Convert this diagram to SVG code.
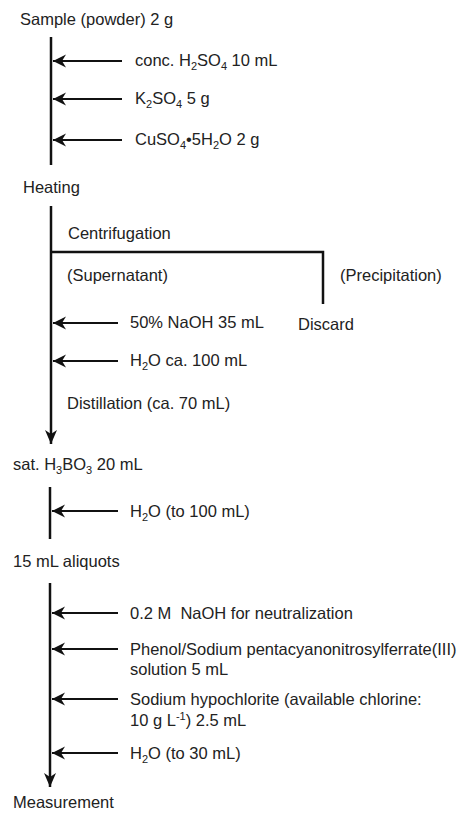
<svg xmlns="http://www.w3.org/2000/svg" width="462" height="814" viewBox="0 0 462 814">
<style>
text{font-family:"Liberation Sans",Arial,sans-serif;font-size:16.5px;fill:#222}
.s{font-size:11px}
.main{stroke:#111;stroke-width:2.5;fill:none}
.add{stroke:#111;stroke-width:2;fill:none;marker-end:url(#ah)}
.mainarr{stroke:#111;stroke-width:2.5;fill:none;marker-end:url(#ahm)}
</style>
<defs>
<marker id="ah" markerUnits="userSpaceOnUse" markerWidth="16" markerHeight="16" viewBox="0 -8 14 16" refX="13" refY="0" orient="auto">
<path d="M0,-6.5 L13,0 L0,6.5 L4,0 Z" fill="#111"/>
</marker>
<marker id="ahm" markerUnits="userSpaceOnUse" markerWidth="16" markerHeight="16" viewBox="0 -8 15 16" refX="14" refY="0" orient="auto">
<path d="M0,-6 L14,0 L0,6 L4,0 Z" fill="#111"/>
</marker>
</defs>

<g id="connectors">
<line class="main" x1="51" y1="37" x2="51" y2="165"/>
<line class="add" x1="122" y1="61" x2="53" y2="61"/>
<line class="add" x1="122" y1="99" x2="53" y2="99"/>
<line class="add" x1="122" y1="140" x2="53" y2="140"/>

<line class="mainarr" x1="51" y1="206" x2="51" y2="444"/>
<polyline class="main" points="51,252 323,252 323,304"/>
<line class="add" x1="118" y1="323" x2="53" y2="323"/>
<line class="add" x1="118" y1="361" x2="53" y2="361"/>

<line class="main" x1="50" y1="487" x2="50" y2="539"/>
<line class="add" x1="118" y1="511" x2="52" y2="511"/>

<line class="mainarr" x1="50" y1="583" x2="50" y2="787"/>
<line class="add" x1="118" y1="613" x2="52" y2="613"/>
<line class="add" x1="118" y1="649" x2="52" y2="649"/>
<line class="add" x1="118" y1="699" x2="52" y2="699"/>
<line class="add" x1="118" y1="753" x2="52" y2="753"/>
</g>

<g id="sample"><text x="20" y="25">Sample (powder) 2 g</text></g>
<g id="h2so4"><text x="135" y="66">conc. H<tspan class="s" dy="4">2</tspan><tspan dy="-4">SO</tspan><tspan class="s" dy="4">4</tspan><tspan dy="-4"> 10 mL</tspan></text></g>
<g id="k2so4"><text x="135" y="104">K<tspan class="s" dy="4">2</tspan><tspan dy="-4">SO</tspan><tspan class="s" dy="4">4</tspan><tspan dy="-4"> 5 g</tspan></text></g>
<g id="cuso4"><text x="135" y="145">CuSO<tspan class="s" dy="4">4</tspan><tspan dy="-4">•5H</tspan><tspan class="s" dy="4">2</tspan><tspan dy="-4">O 2 g</tspan></text></g>
<g id="heating"><text x="23" y="193">Heating</text></g>
<g id="centrifugation"><text x="68" y="239">Centrifugation</text></g>
<g id="supernatant"><text x="67" y="281">(Supernatant)</text></g>
<g id="precipitation"><text x="340" y="281">(Precipitation)</text></g>
<g id="discard"><text x="298" y="330">Discard</text></g>
<g id="naoh50"><text x="130" y="328">50% NaOH 35 mL</text></g>
<g id="h2o100"><text x="130" y="366">H<tspan class="s" dy="4">2</tspan><tspan dy="-4">O ca. 100 mL</tspan></text></g>
<g id="distillation"><text x="67" y="409">Distillation (ca. 70 mL)</text></g>
<g id="h3bo3"><text x="13" y="470">sat. H<tspan class="s" dy="4">3</tspan><tspan dy="-4">BO</tspan><tspan class="s" dy="4">3</tspan><tspan dy="-4"> 20 mL</tspan></text></g>
<g id="h2o-to100"><text x="130" y="517">H<tspan class="s" dy="4">2</tspan><tspan dy="-4">O (to 100 mL)</tspan></text></g>
<g id="aliquots"><text x="13" y="567">15 mL aliquots</text></g>
<g id="naoh02"><text x="130" y="619">0.2 M&#160; NaOH for neutralization</text></g>
<g id="phenol"><text x="130" y="655">Phenol/Sodium pentacyanonitrosylferrate(III)</text><text x="130" y="675">solution 5 mL</text></g>
<g id="hypochlorite"><text x="130" y="705">Sodium hypochlorite (available chlorine:</text><text x="130" y="726">10 g L<tspan class="s" dy="-6">-1</tspan><tspan dy="6">) 2.5 mL</tspan></text></g>
<g id="h2o-to30"><text x="130" y="759">H<tspan class="s" dy="4">2</tspan><tspan dy="-4">O (to 30 mL)</tspan></text></g>
<g id="measurement"><text x="13" y="808">Measurement</text></g>
</svg>
